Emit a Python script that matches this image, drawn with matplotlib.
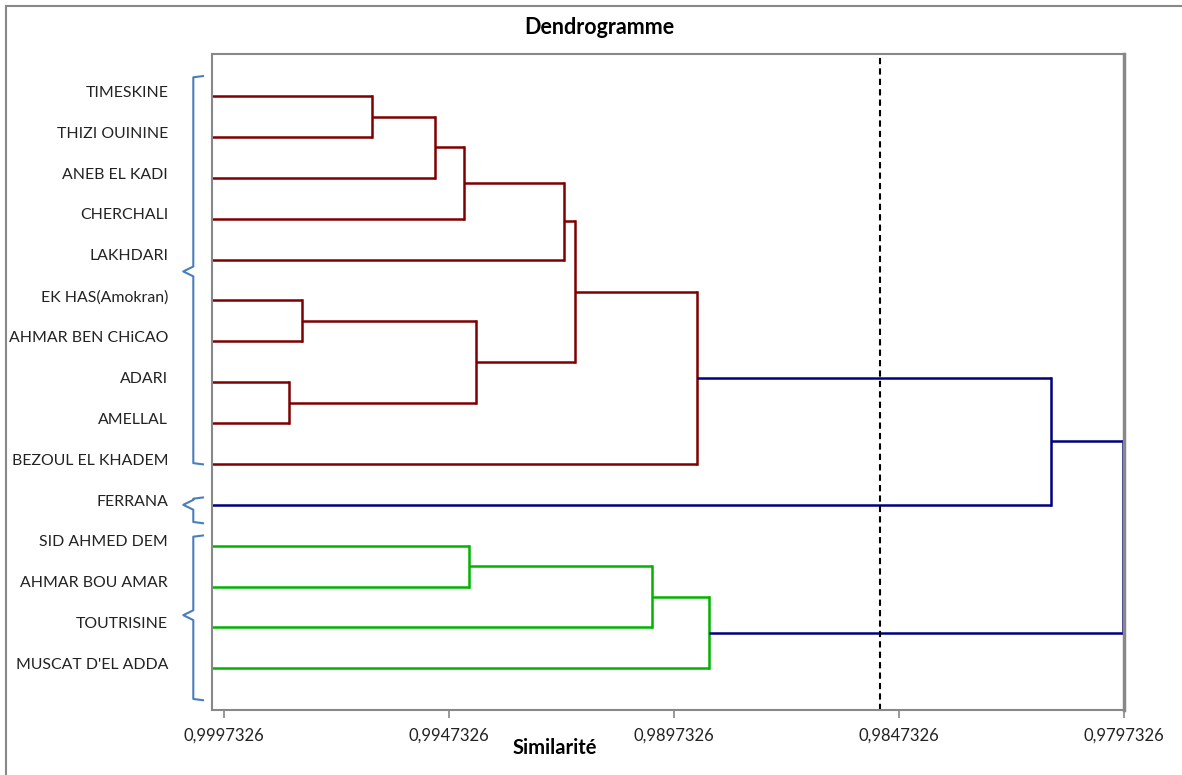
import matplotlib.pyplot as plt
import matplotlib.transforms as mtransforms
from matplotlib.lines import Line2D

plt.rcParams['font.family'] = ['Lato', 'DejaVu Sans']

# feuilles du dendrogramme (de haut en bas)
feuilles = ["TIMESKINE", "THIZI OUININE", "ANEB EL KADI", "CHERCHALI", "LAKHDARI",
            "EK HAS(Amokran)", "AHMAR BEN CHiCAO", "ADARI", "AMELLAL", "BEZOUL EL KHADEM",
            "FERRANA", "SID AHMED DEM", "AHMAR BOU AMAR", "TOUTRISINE", "MUSCAT D'EL ADDA"]

# fusions : (enfant a, enfant b, similarite, groupe) ; noeuds >= 15 sont les fusions precedentes
fusion_a = [0, 15, 16, 17, 5, 7, 19, 18, 22, 23, 11, 25, 26, 24]
fusion_b = [1, 2, 3, 4, 6, 8, 20, 21, 9, 10, 12, 13, 14, 27]
fusion_sim = [0.996440, 0.995039, 0.994393, 0.992169, 0.997997, 0.998287, 0.994126,
              0.991924, 0.989232, 0.981357, 0.994282, 0.990211, 0.988965, 0.97975]
fusion_groupe = ["r", "r", "r", "r", "r", "r", "r", "r", "r", "b", "g", "g", "g", "b"]

seuil = 0.985161
ticks = [0.9997326, 0.9947326, 0.9897326, 0.9847326, 0.9797326]

couleurs = {"r": "#7f0000", "b": "#00007f", "g": "#00b400"}

fig = plt.figure(figsize=(11.82, 7.75), dpi=100)
ax = fig.add_axes([212 / 1182, 65 / 775, 912 / 1182, 656 / 775])

n = len(feuilles)
pos_x = {i: 1.0 for i in range(n)}
pos_y = {i: i + 1 for i in range(n)}

for k in range(len(fusion_a)):
    a, b, s = fusion_a[k], fusion_b[k], fusion_sim[k]
    c = couleurs[fusion_groupe[k]]
    ax.plot([pos_x[a], s], [pos_y[a], pos_y[a]], color=c, lw=1.8, solid_capstyle='butt', clip_on=False)
    ax.plot([pos_x[b], s], [pos_y[b], pos_y[b]], color=c, lw=1.8, solid_capstyle='butt', clip_on=False)
    ax.plot([s, s], [pos_y[a], pos_y[b]], color=c, lw=1.8, solid_capstyle='projecting', clip_on=False)
    node = n + k
    pos_x[node] = s
    pos_y[node] = (pos_y[a] + pos_y[b]) / 2

ax.axvline(seuil, color='black', lw=1.5, ls=(0, (3, 2)))

ax.set_xlim(1.0, 0.9797326)
ax.set_ylim(16.02, -0.03)
ax.set_yticks([])
ax.set_xticks(ticks)
ax.set_xticklabels([f"{t:.7f}".replace(".", ",") for t in ticks], fontsize=12, color='#222222')
ax.tick_params(axis='x', direction='out', length=6, width=1.2, color='#888888', pad=7)
for sp in ax.spines.values():
    sp.set_color('#888888')
    sp.set_linewidth(1.5)
ax.spines['right'].set_linewidth(2.5)

# noms des feuilles
trans = mtransforms.blended_transform_factory(ax.transAxes, ax.transData)
for i, nom in enumerate(feuilles):
    ax.text(-0.048, pos_y[i] - 0.08, nom, transform=trans, ha='right', va='center',
            fontsize=11.4, color='#222222')

# accolades bleues
bleu = '#4a7ebb'
accolades = [(0.54, 9.98, 5.29), (10.85, 11.42, 11.0), (11.78, 15.75, 13.7)]
for y0, y1, ym in accolades:
    xs = [-0.0099, -0.0205, -0.0205, -0.0315, -0.0205, -0.0205, -0.0099]
    ys = [y0 - 0.03, y0, ym - 0.12, ym, ym + 0.12, y1, y1 + 0.03]
    ax.add_line(Line2D(xs, ys, transform=trans, color=bleu, lw=1.5, clip_on=False))

fig.text(599 / 1182, 1 - 27 / 775, "Dendrogramme", ha='center', va='center',
         fontsize=15.5, fontweight='bold')
fig.text(555 / 1182, 1 - 748 / 775, "Similarité", ha='center', va='center',
         fontsize=14.5, fontweight='bold')

# cadre exterieur
fig.add_artist(Line2D([6 / 1182, 6 / 1182], [0, 1 - 6 / 775], transform=fig.transFigure,
                      color='#888888', lw=1.5))
fig.add_artist(Line2D([6 / 1182, 1], [1 - 6 / 775, 1 - 6 / 775], transform=fig.transFigure,
                      color='#888888', lw=1.5))

fig.savefig("out.png", dpi=100)
